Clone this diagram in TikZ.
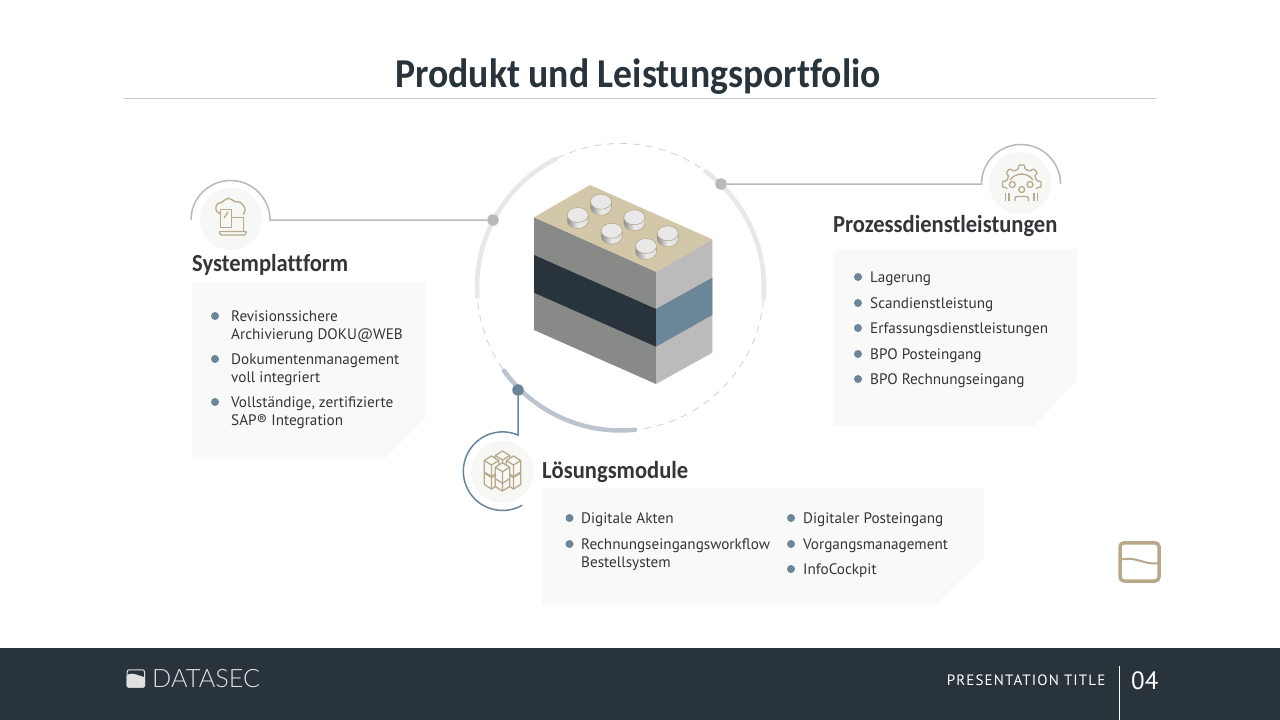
\documentclass[tikz,border=0pt]{standalone}
\usepackage{fontspec}
\setmainfont{PT Sans}
\newfontfamily\headfont{Carlito}[FakeStretch=0.92, Ligatures=NoCommon]
\newfontfamily\logofont{Lato Light}
\usepackage{tikz}
\definecolor{Slate}{HTML}{29333C}
\definecolor{Ink}{HTML}{333538}
\definecolor{SteelBlue}{HTML}{6B8599}
\definecolor{Sand}{HTML}{B8A98A}
\definecolor{BrickTop}{HTML}{D3C7A9}
\definecolor{BrickLeft}{HTML}{888A88}
\definecolor{BrickRight}{HTML}{BCBABA}
\definecolor{Panel}{HTML}{F9F9F9}
\definecolor{Halo}{HTML}{F7F7F6}
\definecolor{LineGray}{HTML}{B9B9B9}
\definecolor{RingGray}{HTML}{E8E8E8}
\definecolor{RingBlue}{HTML}{BCC4D0}
\tikzset{
  heading/.style={anchor=base west, inner sep=0pt, text=Ink, font=\headfont\bfseries\fontsize{24.5}{24.5}\selectfont},
  item/.style={anchor=base west, inner sep=0pt, text=Ink, font=\fontsize{15.2}{15.2}\selectfont},
  bullet/.style={circle, fill=SteelBlue, inner sep=0pt, minimum size=8pt},
  dot/.style={circle, fill=LineGray, inner sep=0pt, minimum size=11.5pt},
  ringarc/.style={line width=4.5pt, line cap=round, draw=#1},
  iconline/.style={draw=Sand, line width=1.3pt, line join=round},
}
\begin{document}
\begin{tikzpicture}[x=1pt, y=-1pt]
\useasboundingbox (0,0) rectangle (1280,720);
\fill[white] (0,0) rectangle (1280,720);

% title
\node (title) at (638,87) [anchor=base, text=Slate, inner sep=0pt, font=\headfont\bfseries\fontsize{41}{41}\selectfont] {Produkt und Leistungsportfolio};
\draw[line width=1pt, draw=black!22] (124,98)--(1156,98);

% ring
\coordinate (ring) at (620.5,287);
\draw[line width=.8pt, draw=black!18, dash pattern=on 7pt off 6pt] (ring) circle (143.5);
\draw[ringarc=RingGray] ([shift={(116.7:143.5pt)}]ring) arc[start angle=116.7, end angle=183.8, radius=143.5pt];
\draw[ringarc=RingGray] ([shift={(53.7:143.5pt)}]ring) arc[start angle=53.7, end angle=-4.4, radius=143.5pt];
\draw[ringarc=RingBlue] ([shift={(215.6:143.5pt)}]ring) arc[start angle=215.6, end angle=275.8, radius=143.5pt];

% brick
\fill[BrickLeft] (534,217.3)--(656,271.7)--(656,384)--(534,330)--cycle;
\fill[BrickRight] (656,271.7)--(712.3,239.3)--(712.3,352.7)--(656,384)--cycle;
\fill[Slate] (534,255)--(656,309)--(656,346.7)--(534,292.7)--cycle;
\fill[SteelBlue] (656,309)--(712.3,277.7)--(712.3,315)--(656,346.7)--cycle;
\fill[BrickTop] (590,185)--(712.3,239.3)--(656,271.7)--(534,217.3)--cycle;
\foreach \sx/\sy in {601/201.7, 577.7/215, 634.3/217.3, 611.7/230.7, 667.7/233.3, 646/246}{
  \shade[left color=black!45, right color=black!12, middle color=black!8] (\sx-10.5,\sy) -- (\sx-10.5,\sy+6) arc[start angle=180, end angle=360, x radius=10.5pt, y radius=7.5pt] -- (\sx+10.5,\sy)--cycle;
  \draw[draw=Sand, line width=.6pt] (\sx-10.5,\sy) -- (\sx-10.5,\sy+6) arc[start angle=180, end angle=360, x radius=10.5pt, y radius=7.5pt] -- (\sx+10.5,\sy);
  \filldraw[fill=black!9, draw=Sand, line width=.6pt] (\sx,\sy) ellipse [x radius=10.5pt, y radius=7.5pt];
}

% panels
\fill[Panel] (192,282)--(426,282)--(426,417)--(384,459)--(192,459)--cycle;
\fill[Panel] (833,249)--(1077,249)--(1077,381)--(1034,426)--(833,426)--cycle;
\fill[Panel] (542,488)--(984,488)--(984,557)--(936,604)--(542,604)--cycle;

% connectors
\node[dot] (dotL) at (493,220) {};
\node[dot] (dotR) at (721,184) {};
\node[dot, fill=SteelBlue] (dotB) at (518,390) {};
\coordinate (endL) at (270,220);
\coordinate (endR) at (981.5,184);
\coordinate (endB) at (518,435);
\draw[line width=1.5pt, draw=LineGray] (dotL)--(endL) arc[start angle=0, end angle=180, radius=39.5pt];
\draw[line width=1.5pt, draw=LineGray] (dotR)--(endR) arc[start angle=180, end angle=0, radius=39.5pt];
\draw[line width=1.5pt, draw=SteelBlue] (dotB)--(endB) arc[start angle=67, end angle=300, radius=39.3pt];

% icon halos
\fill[Halo] (231,219) circle (31);
\fill[Halo] (1020,183) circle (31);
\fill[Halo] (502.3,471.7) circle (31);

% cloud icon
\draw[iconline] plot[smooth, tension=.7] coordinates {(220.7,214) (216,210) (217.3,204) (221.7,202.3) (228.3,198.3) (235,201.7) (240,202.3) (245,208.3) (243.3,214.5)};
\filldraw[iconline, fill=Halo] (220.7,209.3) rectangle (231.7,227.3);
\draw[iconline] (224,218)--(228,212);
\draw[iconline] (231.7,217.7)--(243.3,217.7)--(243.3,231);
\draw[iconline, rounded corners=1pt] (219,231.5)--(246.7,231.5)--(245,235)--(220.5,235)--cycle;

% gear icon
\coordinate (gear) at (1021.7,184.3);
\draw[iconline, rounded corners=.8pt] ([shift={(197:15.5pt)}]gear) \foreach \ga in {180,135,90,45,0}{ -- ([shift={(\ga+13:15.5pt)}]gear) -- ([shift={(\ga+8:19.5pt)}]gear) -- ([shift={(\ga-8:19.5pt)}]gear) -- ([shift={(\ga-13:15.5pt)}]gear)} -- ([shift={(-17:15.5pt)}]gear);
\draw[iconline] (1010,180) arc[start angle=145, end angle=35, radius=14pt];
\draw[iconline] (1012.3,184.5) circle (3) (1030,184.5) circle (3) (1021.7,189.5) circle (3);
\draw[iconline, rounded corners=2pt] (1015,201)--(1015,196.5)--(1028.5,196.5)--(1028.5,201);
\draw[iconline] (1005.5,193)--(1005.5,201) (1009,193)--(1009,201) (1034,193)--(1034,201) (1037.5,193)--(1037.5,201);

% cube icon
\foreach \cx/\cy in {491.5/468.5, 513.5/468.5, 502.5/470.5, 502.5/451, 491.5/456, 513.5/456, 502.5/462.7}{
  \filldraw[iconline, fill=Halo] (\cx,\cy)--(\cx+7.2,\cy+4.5)--(\cx+7.2,\cy+16)--(\cx,\cy+20.5)--(\cx-7.2,\cy+16)--(\cx-7.2,\cy+4.5)--cycle;
  \draw[iconline] (\cx-7.2,\cy+4.5)--(\cx,\cy+9)--(\cx+7.2,\cy+4.5) (\cx,\cy+9)--(\cx,\cy+20.5);
}

% left panel
\node[heading] (sys) at (192,271) {Systemplattform};
\node[bullet] (sysA) at (215,316) {};
\node[bullet] (sysB) at (215,359) {};
\node[bullet] (sysC) at (215,402) {};
\node[item] (sysA1) at (231,321) {Revisionssichere};
\node[item] (sysA2) at (231,339) {Archivierung DOKU@WEB};
\node[item] (sysB1) at (231,364) {Dokumentenmanagement};
\node[item] (sysB2) at (231,382) {voll integriert};
\node[item] (sysC1) at (231,407) {Vollständige, zertifizierte};
\node[item] (sysC2) at (231,425) {SAP® Integration};

% right panel
\node[heading] (pro) at (833,232) {Prozessdienstleistungen};
\foreach \i/\py/\txt in {A/277/Lagerung, B/303/Scandienstleistung, C/328/Erfassungsdienstleistungen, D/354/BPO Posteingang, E/379/BPO Rechnungseingang}{
  \node[bullet] (pro\i) at (858,\py) {};
  \node[item] (pro\i t) at (870,\py+5) {\txt};
}

% bottom panel
\node[heading] (los) at (542,478) {Lösungsmodule};
\node[bullet] (losA) at (569.5,518) {};
\node[bullet] (losB) at (569.5,544) {};
\node[item] (losA1) at (581,523) {Digitale Akten};
\node[item] (losB1) at (581,549) {Rechnungseingangsworkflow};
\node[item] (losB2) at (581,567) {Bestellsystem};
\foreach \i/\py/\txt in {C/518/Digitaler Posteingang, D/544/Vorgangsmanagement, E/569/InfoCockpit}{
  \node[bullet] (los\i) at (791,\py) {};
  \node[item] (los\i t) at (803,\py+5) {\txt};
}

% mark
\draw[draw=Sand, line width=3.5pt, rounded corners=4pt] (1120,542.8) rectangle (1159,581);
\draw[draw=Sand, line width=2pt] (1120,560) .. controls (1135,555) and (1145,566) .. (1159,563);

% footer
\fill[Slate] (0,648) rectangle (1280,720);
\fill[black!12, rounded corners=1.5pt] (126.7,675) .. controls (133,672) and (139,676) .. (145,677) -- (145,687.7) -- (126.7,687.7) -- cycle;
\draw[draw=black!12, line width=1pt, rounded corners=2pt] (127.2,669.8) rectangle (144.5,687.2);
\node (logo) at (152,687) [anchor=base west, inner sep=0pt, text=black!12, font=\logofont\fontsize{25.3}{25.3}\selectfont] {DATASEC};
\node (deck) at (1105.5,685) [anchor=base east, inner sep=0pt, text=white, font=\fontsize{15}{15}\selectfont\addfontfeatures{LetterSpace=7.5}] {PRESENTATION TITLE};
\draw[line width=1pt, draw=white] (1119.5,666)--(1119.5,720);
\node (pageno) at (1131,689) [anchor=base west, inner sep=0pt, text=white, font=\fontsize{25}{25}\selectfont] {04};
\end{tikzpicture}
\end{document}
